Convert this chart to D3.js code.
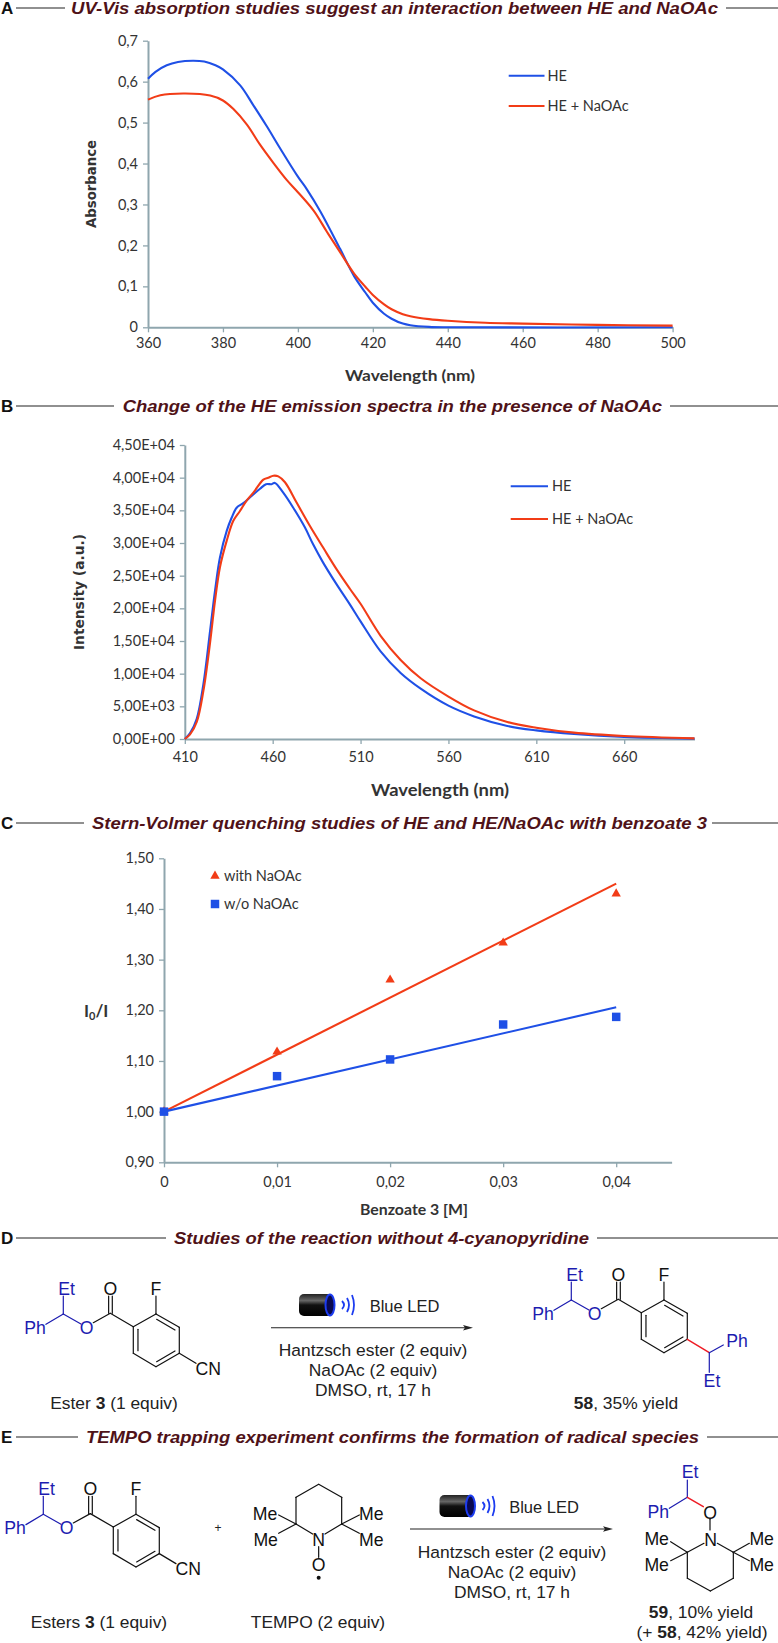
<!DOCTYPE html>
<html><head><meta charset="utf-8">
<script src="https://cdn.jsdelivr.net/npm/d3@7"></script>
<style>
html,body{margin:0;padding:0;background:#fff}
svg{display:block}
text{font-family:"Liberation Sans",Arial,sans-serif}
.tick text,.lato{font-family:Lato,sans-serif;fill:#333;font-size:14.5px}
</style></head><body>
<div id="chart"></div>
<script>
// ---------- Panel A ----------
const aTicksX=[360,380,400,420,440,460,480,500];
const aTicksY=[0,.1,.2,.3,.4,.5,.6,.7];
const aWaveBlue=[360,362,365,368,372,375,378,380,384.6,388,391.7,395.2,400,402.4,406,411.3,415,418,420,423,425,428,430,435,440,500];
const aHE=[.607,.624,.64,.648,.651,.649,.64,.63,.591,.544,.491,.438,.368,.337,.283,.191,.125,.085,.06,.033,.021,.009,.005,.001,0,0];
const aWaveRed=[360,363.3,370,376.6,380,382.8,386.4,389.9,393.5,397,400,404.2,407.7,411.3,415,418,420,423,425,428,430,435,440,450,460,480,500];
const aHENa=[.556,.567,.571,.566,.554,.533,.495,.446,.401,.36,.33,.285,.234,.183,.131,.099,.079,.056,.044,.032,.027,.02,.016,.011,.009,.006,.004];
// ---------- Panel B ----------
const bTicksX=[410,460,510,560,610,660];
const bTicksY=[0,5000,10000,15000,20000,25000,30000,35000,40000,45000];
const bLabelsY=["0,00E+00","5,00E+03","1,00E+04","1,50E+04","2,00E+04","2,50E+04","3,00E+04","3,50E+04","4,00E+04","4,50E+04"];
const bWaveBlue=[410,413,416.8,420.6,424.4,427.2,430,433.9,436.7,439.5,443.3,448,452.8,456.2,459.4,461.3,466,471.7,478.3,483,488.7,496.3,503.9,510,521.4,532.8,544.2,560,574.6,593.5,610,631.4,660,700];
const bHE=[0,900,3100,8450,16600,22700,27800,31900,33900,35400,36100,37200,38300,39000,39000,39200,37700,35400,32400,29800,27000,23700,20600,18000,13400,10100,7700,5100,3460,2000,1320,760,300,50];
const bWaveRed=[410,413,416.8,420.6,424.4,427.2,430,433.9,437.6,441.4,445.2,449,454.7,457.5,460.4,463.2,467,473.6,481.2,488.7,496.3,503.9,510,521.4,532.8,544.2,560,574.6,593.5,610,631.4,660,700];
const bHENa=[0,700,2600,7400,14800,21200,26300,30400,33400,34900,36500,37700,39700,40000,40300,40200,39300,36200,32600,29300,26000,23000,20700,15800,12100,9300,6500,4380,2600,1730,970,460,100];
// ---------- Panel C ----------
const cConc=[0,.01,.02,.03,.04];
const cWith=[1,1.118,1.26,1.333,1.43];
const cWithout=[1,1.07,1.103,1.172,1.187];
const cFitX=[0,.04];
const cFitWith=[1,1.45];
const cFitWithout=[1,1.206];
const cTicksY=[.9,1,1.1,1.2,1.3,1.4,1.5];

const BLUE="#1f50e6",RED="#f23c17",AXIS="#8fa6ae",MAROON="#4f1218",CHEMBLUE="#1c1cb0";
const svg=d3.select("#chart").append("svg").attr("width",778).attr("height",1643);
const comma=(d,n)=>d3.format("."+n+"f")(d).replace(".",",");

function styleAxis(g){
  g.select(".domain").attr("stroke",AXIS).attr("stroke-width",2);
  g.selectAll(".tick line").attr("stroke",AXIS).attr("stroke-width",1.3);
}
function axes(x,y,bottom,left,fx,fy,tx,ty,tickPad){
  const gx=svg.append("g").attr("transform",`translate(0,${bottom})`)
    .call(d3.axisBottom(x).tickValues(tx).tickFormat(fx).tickSize(5).tickSizeOuter(0).tickPadding(tickPad));
  const gy=svg.append("g").attr("transform",`translate(${left},0)`)
    .call(d3.axisLeft(y).tickValues(ty).tickFormat(fy).tickSize(5).tickSizeOuter(0).tickPadding(5));
  styleAxis(gx);styleAxis(gy);
}
function curve(x,y,xs,ys,color){
  svg.append("path").datum(xs.map((d,i)=>[d,ys[i]])).attr("fill","none").attr("stroke",color).attr("stroke-width",2.1)
    .attr("d",d3.line().x(d=>x(d[0])).y(d=>y(d[1])).curve(d3.curveCatmullRom.alpha(.5)));
}
function title(letter,text,x1,x2,y,l2,r1){
  svg.append("text").attr("x",1).attr("y",y).attr("dy",".36em").attr("font-weight","bold").attr("font-size",17).attr("fill","#111").text(letter);
  svg.append("text").attr("x",x1).attr("y",y).attr("dy",".36em").attr("font-weight","bold").attr("font-style","italic")
    .attr("font-size",17).attr("fill",MAROON).attr("textLength",x2-x1).attr("lengthAdjust","spacingAndGlyphs").text(text);
  [[16,l2],[r1,778]].forEach(s=>svg.append("line").attr("x1",s[0]).attr("x2",s[1]).attr("y1",y).attr("y2",y).attr("stroke","#222").attr("stroke-width",1.1));
}
function legendLine(x1,x2,y,tx,label,color){
  svg.append("line").attr("x1",x1).attr("x2",x2).attr("y1",y).attr("y2",y).attr("stroke",color).attr("stroke-width",2);
  svg.append("text").attr("class","lato").attr("x",tx).attr("y",y).attr("dy",".35em").text(label);
}
function axisTitle(x,y,label,size,rot,fam,w){
  const t=svg.append("text").attr("text-anchor","middle").attr("font-weight","bold").attr("font-size",size).attr("fill","#333")
    .style("font-family",fam).attr("transform",`translate(${x},${y}) rotate(${rot})`).attr("dy",".35em").text(label);
  if(w)t.attr("textLength",w).attr("lengthAdjust","spacingAndGlyphs");
  return t;
}

// Panel A
title("A","UV-Vis absorption studies suggest an interaction between HE and NaOAc",71,718,8,65,726);
const ax=d3.scaleLinear().domain([360,500]).range([148,672.6]);
const ay=d3.scaleLinear().domain([0,.7]).range([327.3,40.7]);
axes(ax,ay,327.3,148,d=>d,d=>d===0?"0":comma(d,1),aTicksX,aTicksY,5);
curve(ax,ay,aWaveBlue,aHE,BLUE);curve(ax,ay,aWaveRed,aHENa,RED);
legendLine(508.7,544.5,75.7,547.5,"HE",BLUE);
legendLine(508.7,544.5,106,547.5,"HE + NaOAc",RED);
axisTitle(91,184,"Absorbance",13.5,-90,"'DejaVu Sans'",88);
axisTitle(410,375,"Wavelength (nm)",16,0,"Lato",130);

// Panel B
title("B","Change of the HE emission spectra in the presence of NaOAc",122.7,662,406,114,670);
const bx=d3.scaleLinear().domain([410,700]).range([184.8,694.5]);
const by=d3.scaleLinear().domain([0,45000]).range([739,445]);
axes(bx,by,739,184.8,d=>d,(d,i)=>bLabelsY[i],bTicksX,bTicksY,8);
curve(bx,by,bWaveBlue,bHE,BLUE);curve(bx,by,bWaveRed,bHENa,RED);
legendLine(510.7,548,486.3,552,"HE",BLUE);
legendLine(510.7,548,519,552,"HE + NaOAc",RED);
axisTitle(79.5,592,"Intensity (a.u.)",14,-90,"'DejaVu Sans'",116);
axisTitle(440,790,"Wavelength (nm)",17,0,"Lato",138);

// Panel C
title("C","Stern-Volmer quenching studies of HE and HE/NaOAc with benzoate 3",92,707,823,84,712);
const cx=d3.scaleLinear().domain([0,.0449]).range([164,671.6]);
const cy=d3.scaleLinear().domain([.9,1.5]).range([1162.3,858.3]);
axes(cx,cy,1162.3,164,d=>d===0?"0":comma(d,2),d=>comma(d,2),cConc,cTicksY,9);
const tri=d3.symbol(d3.symbolTriangle,38)(),sq=d3.symbol(d3.symbolSquare,72)();
curve(cx,cy,cFitX,cFitWith,RED);curve(cx,cy,cFitX,cFitWithout,BLUE);
svg.append("g").selectAll("path").data(cConc).join("path").attr("d",tri).attr("fill",RED)
  .attr("transform",(d,i)=>`translate(${cx(d)},${cy(cWith[i])})`);
svg.append("g").selectAll("path").data(cConc).join("path").attr("d",sq).attr("fill",BLUE)
  .attr("transform",(d,i)=>`translate(${cx(d)},${cy(cWithout[i])})`);
svg.append("path").attr("d",tri).attr("fill",RED).attr("transform","translate(215,876)");
svg.append("path").attr("d",sq).attr("fill",BLUE).attr("transform","translate(215,904)");
svg.append("text").attr("class","lato").attr("x",224).attr("y",875.5).attr("dy",".35em").text("with NaOAc");
svg.append("text").attr("class","lato").attr("x",224).attr("y",904).attr("dy",".35em").text("w/o NaOAc");
const i0=svg.append("text").attr("x",84).attr("y",1017).attr("font-weight","bold").attr("font-size",17).attr("fill","#333").style("font-family","Lato");
i0.append("tspan").text("I");i0.append("tspan").attr("dy",3).attr("font-size",11).text("0");i0.append("tspan").attr("dy",-3).text("/I");
svg.append("text").attr("x",414).attr("y",1209).attr("dy",".35em").attr("text-anchor","middle").attr("font-weight","bold").attr("font-size",16).attr("fill","#333")
  .style("font-family","Lato").attr("textLength",108).attr("lengthAdjust","spacingAndGlyphs").text("Benzoate 3 [M]");

// Schemes: structure drawings in a 3x local grid
const esterBlueBonds=[[0,-54,0,0],[0,0,-52,31],[0,0,53,30]];
const esterBlackBonds=[[90,26,141,-2],[136,-2,136,-54],[147,-2,147,-54],[141,-2,210,38],[210,38,278,0],[278,0,348,40],[348,40,348,118],[348,118,278,158],[278,158,210,118],[210,118,210,38],[278,0,278,-54],[280,16,335,48],[335,111,280,143],[224,46,224,110]];
const esterLabels=[["Et",10,-77,1],["Ph",-85,40,1],["O",70,40,1],["O",141,-77,0],["F",278,-77,0]];
const cnBond=[348,118,398,148],cnLabel=["CN",435,163,0];
const tempoBonds=[[956,253,888,292],[956,253,1025,292],[888,292,888,372],[1025,292,1025,372],[888,372,938,402],[1025,372,975,402],[888,372,836,345],[888,372,836,400],[1025,372,1078,345],[1025,372,1078,400],[956,440,956,472]];
const tempoLabels=[["Me",795,342],["Me",797,418],["Me",1114,342],["Me",1114,418],["N",956,418],["O",956,494]];
const p59BlueBonds=[[922,240,922,292],[922,292,868,325]];
const p59Red=[922,292,970,320];
const p59Bonds=[[990,358,990,390],[972,430,922,457],[1012,430,1060,457],[922,457,922,535],[1060,457,1060,535],[922,535,991,573],[1060,535,991,573],[922,457,872,425],[922,457,872,482],[1060,457,1108,430],[1060,457,1108,482]];
const p59Labels=[["O",990,337,0],["N",992,418,0],["Me",830,417,0],["Me",830,494,0],["Me",1145,417,0],["Me",1145,494,0],["Et",930,216,1],["Ph",835,335,1]];

function group(ox,oy){return svg.append("g").attr("transform",`translate(${ox},${oy}) scale(${1/3})`);}
function bonds(g,list,color,w){g.append("g").selectAll("line").data(list).join("line")
  .attr("x1",d=>d[0]).attr("y1",d=>d[1]).attr("x2",d=>d[2]).attr("y2",d=>d[3]).attr("stroke",color).attr("stroke-width",w||3.6).attr("stroke-linecap","round");}
function labels(g,list){g.append("g").selectAll("text").data(list).join("text").attr("x",d=>d[1]).attr("y",d=>d[2]).attr("dy",".36em")
  .attr("text-anchor","middle").attr("font-size",53).attr("fill",d=>d[3]?CHEMBLUE:"#111").text(d=>d[0]);}
function ester(ox,oy,cn){
  const g=group(ox,oy);
  bonds(g,esterBlueBonds,CHEMBLUE);bonds(g,esterBlackBonds,"#111");
  labels(g,esterLabels);
  if(cn){bonds(g,[cnBond],"#111");labels(g,[cnLabel]);}
  return g;
}
function rich(x,y,parts,size){
  const t=svg.append("text").attr("x",x).attr("y",y).attr("dy",".36em").attr("text-anchor","middle").attr("font-size",size||17.4).attr("fill","#222");
  parts.forEach(p=>t.append("tspan").attr("font-weight",p[1]?"bold":null).text(p[0]));
}
const defs=svg.append("defs");
const lg=defs.append("linearGradient").attr("id","led").attr("x1",0).attr("x2",0).attr("y1",0).attr("y2",1);
[["0%","#222"],["30%","#666"],["50%","#111"],["100%","#000"]].forEach(s=>lg.append("stop").attr("offset",s[0]).attr("stop-color",s[1]));
function led(x,y){ // x: left edge, y: vertical centre
  svg.append("rect").attr("x",x).attr("y",y-11).attr("width",33).attr("height",22).attr("rx",5).attr("fill","url(#led)");
  svg.append("ellipse").attr("cx",x+31).attr("cy",y).attr("rx",4.5).attr("ry",10.5).attr("fill","#0a0a50").attr("stroke","#1c3cf0").attr("stroke-width",2);
  [[45,4],[50,7],[55,10]].forEach(a=>{
    svg.append("path").attr("fill","none").attr("stroke","#1c3cf0").attr("stroke-width",1.8)
      .attr("d",`M${x+a[0]-2} ${y-a[1]} Q${x+a[0]+2} ${y} ${x+a[0]-2} ${y+a[1]}`);
  });
}
function reaction(x1,x2,ya,cx0,yt,ledX,ledY,textX){
  svg.append("line").attr("x1",x1).attr("x2",x2-6).attr("y1",ya).attr("y2",ya).attr("stroke","#222").attr("stroke-width",1.1);
  svg.append("path").attr("d",`M${x2} ${ya} l-10 -2.8 l2 2.8 l-2 2.8 z`).attr("fill","#222");
  led(ledX,ledY);
  rich(textX,ledY+.7,[["Blue LED"]],16.5);
  rich(cx0,yt,[["Hantzsch ester (2 equiv)"]]);
  rich(cx0,yt+20,[["NaOAc (2 equiv)"]]);
  rich(cx0,yt+40,[["DMSO, rt, 17 h"]]);
}

// Panel D
title("D","Studies of the reaction without 4-cyanopyridine",174,589,1238,166,597);
ester(63.3,1314,true);
rich(114,1403,[["Ester "],["3",1],[" (1 equiv)"]]);
reaction(271,473,1327.7,373,1350,299,1305,404.5);
const d=ester(571.3,1300,false);
bonds(d,[[348,118,414,158]],"#ee1c25",4.5);
bonds(d,[[414,158,456,135],[414,158,414,217]],CHEMBLUE);
labels(d,[["Ph",497,123,1],["Et",422,242,1]]);
rich(626,1403,[["58",1],[", 35% yield"]]);

// Panel E
title("E","TEMPO trapping experiment confirms the formation of radical species",86,699,1437,78,707);
ester(43.3,1514.3,true);
rich(218,1528,[["+"]],12);
const tg=group(0,1400);
bonds(tg,tempoBonds,"#111");labels(tg,tempoLabels);
tg.append("circle").attr("cx",956).attr("cy",533).attr("r",6).attr("fill","#111");
rich(99,1622,[["Esters "],["3",1],[" (1 equiv)"]]);
rich(318,1622,[["TEMPO (2 equiv)"]]);
reaction(410,613,1529,512,1551.5,439.5,1506,544);
const pg=group(380,1400);
bonds(pg,p59BlueBonds,CHEMBLUE);bonds(pg,[p59Red],"#ee1c25",4.5);bonds(pg,p59Bonds,"#111");labels(pg,p59Labels);
rich(701,1612,[["59",1],[", 10% yield"]]);
rich(702,1632,[["(+ "],["58",1],[", 42% yield)"]]);
</script>
</body></html>
